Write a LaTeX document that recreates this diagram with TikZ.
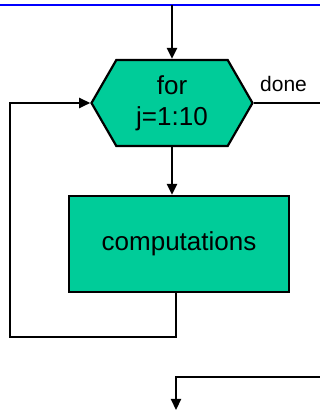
\documentclass[tikz,border=0pt]{standalone}
\usepackage{fontspec}
\setmainfont{Liberation Sans}
\usetikzlibrary{arrows.meta,shapes.symbols,positioning}
\definecolor{loopgreen}{HTML}{00CC99}
\tikzset{
>={Triangle[length=11pt,width=10pt]},
  loophex/.style={
    signal, signal to=west and east,
    signal pointer angle=120,
    fill=loopgreen,
    draw=black, line width=2.2pt,
    minimum width=161pt,
    minimum height=86pt,
    inner sep=0pt,
    align=center,
    font=\fontsize{26}{31}\selectfont},
  workbox/.style={
    rectangle,
    fill=loopgreen,
    draw=black, line width=2.2pt,
    minimum width=220pt,
    minimum height=96pt,
    font=\fontsize{26}{30}\selectfont},
  line/.style={draw, line width=2.2pt},
  pil/.style={->, line width=2.2pt},
}
\begin{document}
\begin{tikzpicture}[x=1pt,y=1pt]
    \useasboundingbox (0,0) rectangle (320,411);
    \draw[blue, line width=2.5pt] (0,406) -- (320,406);
    \node[loophex]  (loop) at (172,308) {for\\j=1:10};
    \node[workbox]  (work) at (179,167) {computations};
    \coordinate (entry) at (172,406);
    \coordinate (exit)  at (320,308);
    \coordinate (back)  at (176,74);
    \coordinate (side)  at (10,74);
    \coordinate (rin)   at (320,34);
    \coordinate (down)  at (176,34);
    \coordinate (out)   at (176,1);
    \draw[pil] (entry) -- (loop.north);
    \draw[pil] (loop.south) -- (loop.south |- work.north);
    \draw[pil] (back |- work.south) -- (back) -- (side) |- (loop.west);
    \draw[line] (loop.east) -- node[pos=0.45, above=7pt, font=\fontsize{21}{25}\selectfont] {done} (exit);
    \draw[pil] (rin) -- (down) -- (out);
\end{tikzpicture}
\end{document}
